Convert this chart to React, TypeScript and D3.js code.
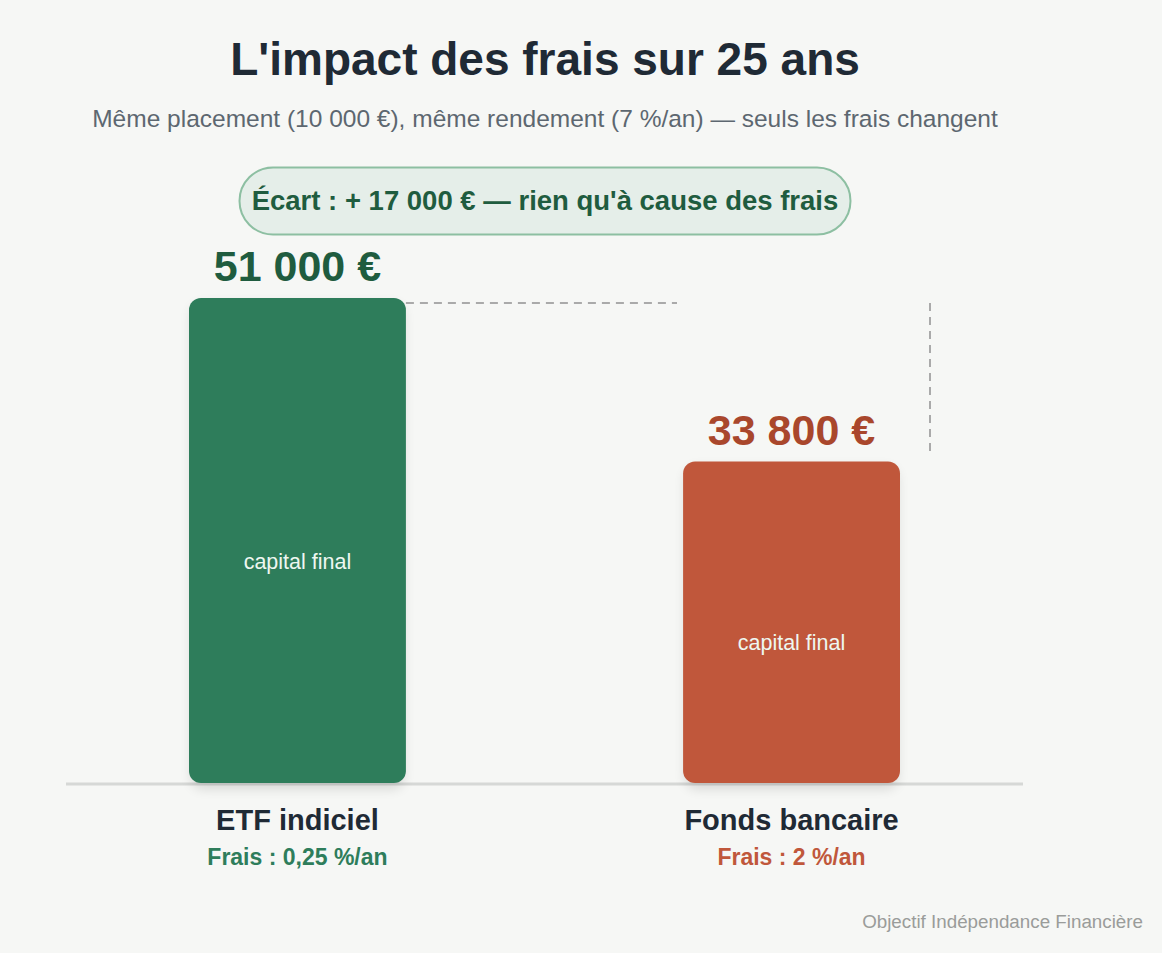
import React, { useEffect } from 'react';
import { scaleLinear, scaleBand } from 'd3';

// data
const categories = ['ETF indiciel', 'Fonds bancaire'];
const finalValues = [51000, 33800];
const valueLabels = ['51 000 €', '33 800 €'];
const feeLabels = ['Frais : 0,25 %/an', 'Frais : 2 %/an'];
const gapLabel = "Écart : + 17 000 € — rien qu'à cause des frais";

const W = 1162;
const H = 953;
const FONT = '"Liberation Sans", Arial, Helvetica, sans-serif';
const barColors = ['#2e7d5b', '#c0573b'];
const valueColors = ['#1f5c3f', '#a9472c'];
const feeColors = ['#2e7d5b', '#c0573b'];

export default function App() {
    useEffect(() => {
        document.body.style.margin = '0';
        document.body.style.background = '#f6f7f5';
    }, []);

    const baseY = 783;
    const yScale = scaleLinear().domain([0, finalValues[0]]).range([baseY, 298]);
    const xScale = scaleBand<string>().domain(categories).range([189, 900]).paddingInner(0.561).paddingOuter(0);
    const bw = xScale.bandwidth();
    const cx = (i: number) => (xScale(categories[i]) as number) + bw / 2;

    const topHi = yScale(finalValues[0]);
    const topLo = yScale(finalValues[1]);

    return (
        <svg width={W} height={H} style={{ display: 'block', fontFamily: FONT }}>
            <defs>
                <filter id="blur6" x="-30%" y="-30%" width="160%" height="160%">
                    <feGaussianBlur stdDeviation="6" />
                </filter>
            </defs>
            <rect width={W} height={H} fill="#f6f7f5" />

            <text x={545} y={75} textAnchor="middle" fontSize={46} fontWeight="bold" fill="#1f2a35">
                L'impact des frais sur 25 ans
            </text>
            <text x={545} y={127} textAnchor="middle" fontSize={24.5} fill="#5d6770">
                Même placement (10 000 €), même rendement (7 %/an) — seuls les frais changent
            </text>

            <rect x={239.5} y={167.5} width={611} height={67} rx={33.5} fill="#e5eee9" stroke="#8dbfa2" strokeWidth={2} />
            <text x={545} y={210} textAnchor="middle" fontSize={27.5} fontWeight="bold" fill="#1f5c3f">
                {gapLabel}
            </text>

            {/* dashed connectors */}
            <line
                x1={(xScale(categories[0]) as number) + bw}
                x2={677}
                y1={topHi + 5}
                y2={topHi + 5}
                stroke="#aaa"
                strokeWidth={2}
                strokeDasharray="8 6"
            />
            <line x1={930} x2={930} y1={topHi + 5} y2={topLo - 5} stroke="#aaa" strokeWidth={2} strokeDasharray="8 6" />

            <line x1={66} x2={1023} y1={baseY + 1} y2={baseY + 1} stroke="#d6d8d6" strokeWidth={3} />

            {categories.map((c, i) => {
                const x = xScale(c) as number;
                const y = yScale(finalValues[i]);
                const mid = (y + baseY) / 2;
                return (
                    <g key={c}>
                        <rect x={x + 2} y={y + 6} width={bw - 4} height={baseY - y} rx={12} fill="#000" opacity={0.12} filter="url(#blur6)" />
                        <rect x={x} y={y} width={bw} height={baseY - y} rx={12} fill={barColors[i]} />
                        <text x={cx(i)} y={mid + 28} textAnchor="middle" fontSize={21.5} fill="#eef7f1">
                            capital final
                        </text>
                        <text x={cx(i)} y={y - 17} textAnchor="middle" fontSize={43} fontWeight="bold" fill={valueColors[i]}>
                            {valueLabels[i]}
                        </text>
                        <text x={cx(i)} y={830} textAnchor="middle" fontSize={29} fontWeight="bold" fill="#1f2a35">
                            {c}
                        </text>
                        <text x={cx(i)} y={865} textAnchor="middle" fontSize={23} fontWeight="bold" fill={feeColors[i]}>
                            {feeLabels[i]}
                        </text>
                    </g>
                );
            })}

            <text x={1143} y={928} textAnchor="end" fontSize={18.8} fill="#9a9c9a">
                Objectif Indépendance Financière
            </text>
        </svg>
    );
}
